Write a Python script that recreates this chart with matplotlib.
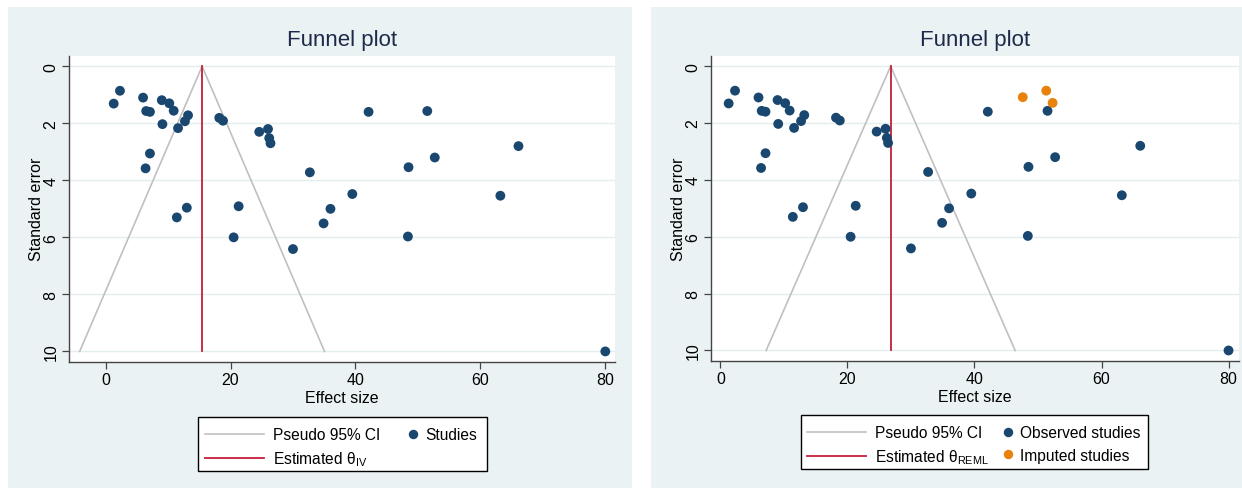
import matplotlib.pyplot as plt
from matplotlib.patches import Rectangle
from matplotlib.lines import Line2D

plt.rcParams['font.family'] = ['Liberation Sans', 'DejaVu Sans']
plt.rcParams['mathtext.fontset'] = 'custom'
plt.rcParams['mathtext.rm'] = 'Liberation Sans'

W, H = 1242, 489

# ---- data ----
obs_es = [1.3, 2.3, 6.0, 9.0, 10.2, 6.5, 7.1, 10.9, 13.2, 12.7, 9.1, 11.6,
          18.2, 18.8, 24.6, 26.0, 26.2, 26.4, 7.1, 6.4, 32.7, 39.5, 36.0, 34.9,
          13.0, 11.4, 21.3, 20.5, 30.0, 42.1, 51.5, 52.7, 48.5, 48.4, 63.2, 66.1, 80.0]
obs_se = [1.31, 0.86, 1.10, 1.19, 1.30, 1.57, 1.60, 1.56, 1.72, 1.93, 2.03, 2.17,
          1.81, 1.91, 2.30, 2.20, 2.52, 2.70, 3.06, 3.58, 3.72, 4.48, 5.00, 5.51,
          4.96, 5.30, 4.91, 6.00, 6.41, 1.60, 1.57, 3.20, 3.54, 5.97, 4.54, 2.80, 10.0]
imp_es = [47.6, 51.3, 52.3]
imp_se = [1.09, 0.86, 1.29]
theta_iv = 15.45
theta_reml = 26.8
se_max = 10

NAVY = '#1A476F'
ORANGE = '#E8820C'
RED = '#C41E3A'
GREY = '#C0C0C0'
BG = '#EAF2F3'


def fx(x):
    return x / W


def fy(y):
    return 1 - y / H


fig = plt.figure(figsize=(W / 100, H / 100), dpi=100)
fig.patches.append(Rectangle((fx(8), fy(489)), fx(624), 481 / H, transform=fig.transFigure,
                             facecolor=BG, edgecolor='none', zorder=-5))
fig.patches.append(Rectangle((fx(651), fy(489)), fx(591), 481 / H, transform=fig.transFigure,
                             facecolor=BG, edgecolor='none', zorder=-5))


def funnel(ax, theta, xlim, imputed=False):
    ax.set_facecolor('white')
    lo = [theta - 1.96 * se_max, theta, theta + 1.96 * se_max]
    ax.plot(lo, [se_max, 0, se_max], color=GREY, lw=1.2, zorder=2)
    ax.plot([theta, theta], [0, se_max], color=RED, lw=1.3, zorder=3)
    ax.scatter(obs_es, obs_se, s=50, color=NAVY, edgecolors='none', zorder=4, clip_on=False)
    if imputed:
        ax.scatter(imp_es, imp_se, s=50, color=ORANGE, edgecolors='none', zorder=4)
    ax.set_xlim(*xlim)
    ax.set_ylim(10.36, -0.37)
    ax.set_xticks([0, 20, 40, 60, 80])
    ax.set_yticks([0, 2, 4, 6, 8, 10])
    ax.yaxis.grid(True, color='#E4EDEF', lw=1.0, zorder=1)
    ax.set_axisbelow(True)
    for s in ['top', 'right']:
        ax.spines[s].set_visible(False)
    for s in ['left', 'bottom']:
        ax.spines[s].set_color('#444444')
        ax.spines[s].set_linewidth(1.0)
    ax.tick_params(axis='both', length=4.7, width=0.9, color='#444444', labelsize=11.5, pad=3)
    for lab in ax.get_yticklabels():
        lab.set_rotation(90)
        lab.set_va('center')
    ax.set_xlabel('Effect size', fontsize=11.5, labelpad=2)
    ax.set_ylabel('Standard error', fontsize=11.5, labelpad=0)
    ax.set_title('Funnel plot', fontsize=16, color='#1E2A4A', pad=8)


ax1 = fig.add_axes([fx(69.3), fy(362.7), fx(546), 306 / H])
funnel(ax1, theta_iv, (-5.81, 81.6))
ax2 = fig.add_axes([fx(711.2), fy(361.7), fx(527.5), 305 / H])
funnel(ax2, theta_reml, (-1.45, 81.6), imputed=True)


def legend_box(x0, y0, x1, y1, line_x, row_y, mark_x, theta_txt, mark_items):
    fig.patches.append(Rectangle((fx(x0), fy(y1)), fx(x1 - x0), (y1 - y0) / H,
                                 transform=fig.transFigure, facecolor='white',
                                 edgecolor='black', lw=1.0, zorder=5))
    h1 = [Line2D([], [], color=GREY, lw=1.2), Line2D([], [], color=RED, lw=1.3)]
    l1 = fig.legend(h1, ['Pseudo 95% CI', 'Estimated θ$_{\\rm ' + theta_txt + '}$'],
                    loc='upper left', bbox_to_anchor=(fx(line_x), fy(row_y)),
                    frameon=False, fontsize=11.2, handlelength=3.8, handletextpad=0.55,
                    borderpad=0, borderaxespad=0, labelspacing=0.5)
    l1.set_zorder(6)
    h2 = [Line2D([], [], ls='none', marker='o', ms=6.8, color=c, mec='none')
          for c, _ in mark_items]
    l2 = fig.legend(h2, [t for _, t in mark_items],
                    loc='upper left', bbox_to_anchor=(fx(mark_x - 6), fy(row_y)),
                    frameon=False, fontsize=11.2, handlelength=0.8, handletextpad=0.4,
                    borderpad=0, borderaxespad=0, labelspacing=0.5)
    l2.set_zorder(6)


legend_box(198.3, 418.3, 486.7, 471.7, 205, 428, 412.7, 'IV', [(NAVY, 'Studies')])
legend_box(800.7, 416, 1148, 470, 807.3, 426, 1007.3, 'REML',
           [(NAVY, 'Observed studies'), (ORANGE, 'Imputed studies')])

fig.savefig('out.png', dpi=100)
